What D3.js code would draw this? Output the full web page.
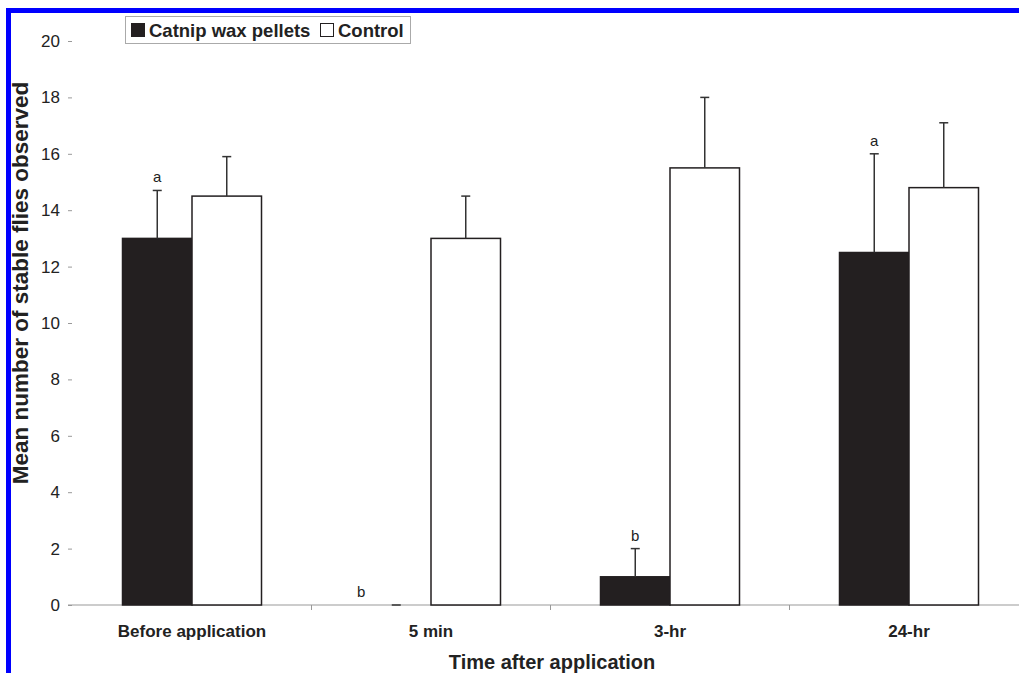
<!DOCTYPE html>
<html><head><meta charset="utf-8">
<script src="https://cdn.jsdelivr.net/npm/d3@7"></script>
<style>body{margin:0;background:#fff}svg{display:block}text{font-family:Arial,"Liberation Sans",sans-serif}</style>
</head><body><svg id="c" width="1019" height="673"></svg>
<script>
const categories = ["Before application", "5 min", "3-hr", "24-hr"];
const seriesNames = ["Catnip wax pellets", "Control"];
const catnipMean = [13, 0, 1, 12.5];
const catnipErr = [1.7, 0, 1, 3.5];
const controlMean = [14.5, 13, 15.5, 14.8];
const controlErr = [1.4, 1.5, 2.5, 2.3];
const catnipLetters = ["a", "b", "b", "a"];
const yTicks = [0, 2, 4, 6, 8, 10, 12, 14, 16, 18, 20];

const svg = d3.select("#c");
const dark = "#231f20";
const y = d3.scaleLinear().domain([0, 20]).range([605, 41]);
const x0 = d3.scaleBand().domain(categories).range([72.5, 1028.5]);
const pairW = 139;
const x1 = d3.scaleBand().domain(seriesNames)
  .range([(x0.bandwidth() - pairW) / 2, (x0.bandwidth() + pairW) / 2]);

// blue frame
svg.append("rect").attr("x", 6).attr("y", 8).attr("width", 1013).attr("height", 5).attr("fill", "#0000ff");
svg.append("rect").attr("x", 6).attr("y", 8).attr("width", 5).attr("height", 665).attr("fill", "#0000ff");

// y axis
const yAxis = svg.append("g").attr("transform", "translate(72,0)")
  .call(d3.axisLeft(y).tickValues(yTicks).tickSize(4).tickPadding(8));
yAxis.select(".domain").remove();
yAxis.selectAll(".tick line").attr("stroke", "#999");
yAxis.selectAll(".tick text").attr("font-size", 17).attr("fill", "#222")
  .attr("font-family", "Arial, 'Liberation Sans', sans-serif");

// x axis
const xAxis = svg.append("g").attr("transform", "translate(0,605)");
xAxis.append("line").attr("x1", 68).attr("x2", 1019).attr("y1", 0).attr("y2", 0).attr("stroke", "#999").attr("stroke-width", 1);
xAxis.selectAll(".bt").data(categories.slice(1)).join("line")
  .attr("x1", d => x0(d)).attr("x2", d => x0(d)).attr("y1", 0).attr("y2", 5).attr("stroke", "#999");
xAxis.selectAll(".cl").data(categories).join("text")
  .attr("x", d => x0(d) + x0.bandwidth() / 2).attr("y", 32)
  .attr("text-anchor", "middle").attr("font-size", 17).attr("font-weight", "bold").attr("fill", "#222")
  .text(d => d);

// data rows
const rows = categories.map((c, i) => ({
  c, bars: [
    {s: seriesNames[0], v: catnipMean[i], e: catnipErr[i], fill: dark, letter: catnipLetters[i]},
    {s: seriesNames[1], v: controlMean[i], e: controlErr[i], fill: "#fff", letter: ""}
  ]
}));

const g = svg.append("g");
rows.forEach(r => {
  r.bars.forEach(b => {
    const bx = x0(r.c) + x1(b.s);
    const w = x1.bandwidth();
    const cx = bx + w / 2;
    if (b.v > 0) {
      g.append("rect").attr("x", bx).attr("y", y(b.v)).attr("width", w).attr("height", y(0) - y(b.v))
        .attr("fill", b.fill).attr("stroke", dark).attr("stroke-width", 1.5);
    }
    // error bar
    g.append("line").attr("x1", cx).attr("x2", cx).attr("y1", y(b.v)).attr("y2", y(b.v + b.e))
      .attr("stroke", "#333").attr("stroke-width", 1.5);
    g.append("line").attr("x1", cx - 4.5).attr("x2", cx + 4.5).attr("y1", y(b.v + b.e)).attr("y2", y(b.v + b.e))
      .attr("stroke", "#333").attr("stroke-width", 1.5);
    if (b.letter) {
      const dx = b.v === 0 ? -35 : 0;
      g.append("text").attr("x", cx + dx).attr("y", y(b.v + b.e) - 8)
        .attr("text-anchor", "middle").attr("font-size", 15).attr("fill", "#222").text(b.letter);
    }
  });
});

// axis titles
svg.append("text").attr("x", 552).attr("y", 669).attr("text-anchor", "middle")
  .attr("font-size", 20).attr("font-weight", "bold").attr("fill", "#222").text("Time after application");
svg.append("text").attr("transform", "translate(28,283) rotate(-90)").attr("text-anchor", "middle")
  .attr("font-size", 22.5).attr("font-weight", "bold").attr("fill", "#222").text("Mean number of stable flies observed");

// legend
const lg = svg.append("g");
lg.append("rect").attr("x", 125.5).attr("y", 16.5).attr("width", 285).attr("height", 27)
  .attr("fill", "#fff").attr("stroke", "#aaa");
const legX = [131, 320];
const fills = [dark, "#fff"];
seriesNames.forEach((s, i) => {
  lg.append("rect").attr("x", legX[i] + 0.5).attr("y", 23.5).attr("width", 13).attr("height", 13)
    .attr("fill", fills[i]).attr("stroke", dark).attr("stroke-width", 1);
  lg.append("text").attr("x", legX[i] + 18).attr("y", 37).attr("font-size", 18.5).attr("font-weight", "bold")
    .attr("fill", "#222").text(s);
});
</script></body></html>
